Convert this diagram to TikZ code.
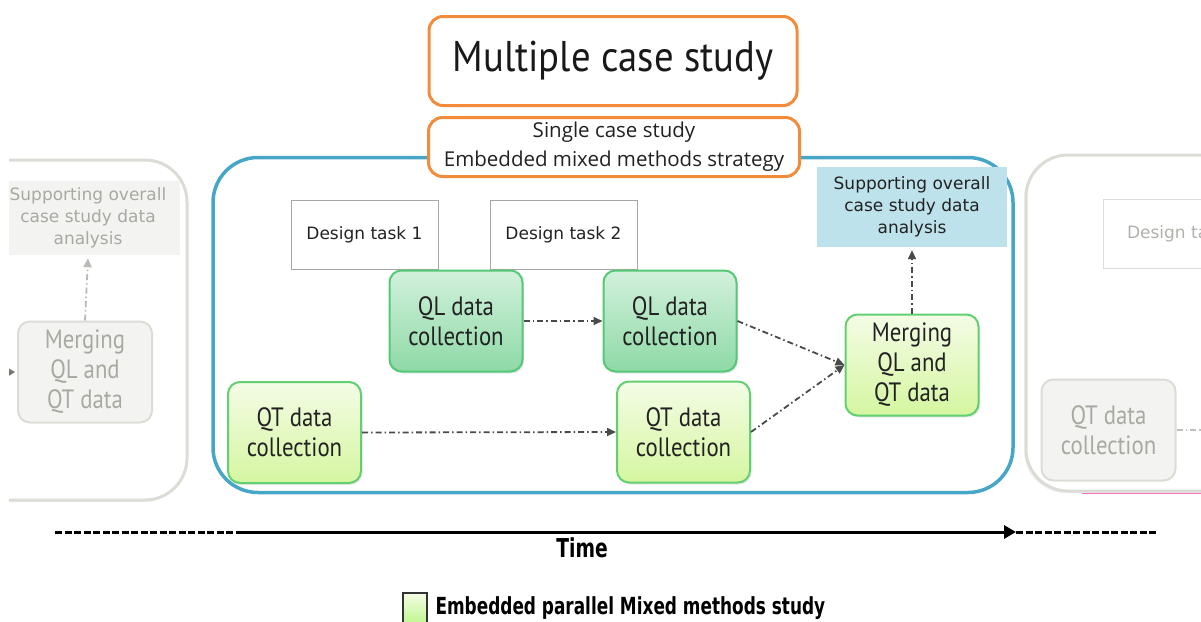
\documentclass[tikz,border=0pt]{standalone}
\usepackage{fontspec}
\setmainfont{PT Sans}[FakeStretch=0.86]
\newfontfamily\verd{DejaVu Sans}
\newfontfamily\subf{Open Sans}
\newfontfamily\titlef{PT Sans}[FakeStretch=0.9]
\newfontfamily\cond{DejaVu Sans Condensed}[FakeStretch=0.8]
\usetikzlibrary{arrows.meta,shadows}

\definecolor{orangeb}{HTML}{F28C3A}
\definecolor{blueb}{HTML}{46A6C8}
\definecolor{bluefill}{HTML}{BEE2EC}
\definecolor{qlborder}{HTML}{55C878}
\definecolor{qltop}{HTML}{D2F1DC}
\definecolor{qlbot}{HTML}{8ED9A6}
\definecolor{qtborder}{HTML}{62D070}
\definecolor{qttop}{HTML}{F4FCE6}
\definecolor{qtbot}{HTML}{D5F6A0}
\definecolor{fadeline}{HTML}{DCDCD7}
\definecolor{fadetext}{HTML}{A9A9A2}
\definecolor{fadefill}{HTML}{F3F3F1}
\definecolor{arrowc}{HTML}{4A4A4A}
\definecolor{inktext}{HTML}{222222}

\tikzset{
  x=1pt, y=-1pt,
  orangebox/.style={draw=orangeb, line width=3pt, rounded corners=14pt, fill=white, align=center},
  stage/.style={draw=blueb, line width=3.5pt, rounded corners=45pt, minimum width=800pt, minimum height=335pt},
  fadestage/.style={draw=fadeline, line width=3pt, rounded corners=42pt, fill=white,
    drop shadow={opacity=.12, shadow xshift=-2pt, shadow yshift=-2pt}},
  taskbox/.style={draw=gray!70, line width=1pt, fill=white, minimum width=147pt, minimum height=69pt,
    font=\verd\fontsize{17}{20}\selectfont, text=inktext},
  databox/.style={line width=2pt, rounded corners=12pt, minimum width=133pt, minimum height=101pt,
    align=center, font=\fontsize{26.5}{30}\selectfont, text=inktext,
    drop shadow={opacity=.18, shadow xshift=1.5pt, shadow yshift=-2pt}},
  qlbox/.style={databox, draw=qlborder, top color=qltop, bottom color=qlbot},
  qtbox/.style={databox, draw=qtborder, top color=qttop, bottom color=qtbot},
  fadebox/.style={draw=fadeline, line width=2pt, rounded corners=12pt, fill=fadefill,
    minimum width=134pt, minimum height=101pt, align=center, text=fadetext,
    font=\fontsize{26.5}{30}\selectfont},
  supportbox/.style={minimum width=190pt, minimum height=80pt, align=center,
    font=\verd\fontsize{17}{22}\selectfont},
  flow/.style={draw=arrowc, line width=1.8pt, dash pattern=on 6pt off 3pt on 1.5pt off 3pt,
    -{Triangle[length=9pt,width=8pt]}},
  fadeflow/.style={flow, draw=fadetext!80},
  timeline/.style={line width=3pt, black},
}

\begin{document}
\begin{tikzpicture}
\useasboundingbox (0,0) rectangle (1201,621);
\clip (0,0) rectangle (1201,621);

% ---- preceding case (faded, cut at the left edge)
\begin{scope}
  \clip (9,0) rectangle (600,621);
  \draw[fadestage] (-60,160) rectangle (187,500);
  \node[supportbox, fill=fadefill, minimum width=184pt, minimum height=74pt, text=fadetext] (lsupp) at (88,218)
    {Supporting overall\\case study data\\analysis};
  \node[fadebox] (lmerge) at (85,372) {Merging\\QL and\\QT data};
  \coordinate (lin) at (-30,373);
  \draw[fadeflow, draw=fadetext!70!black, -{Triangle[length=12pt,width=14pt]}] (lin) -- ([xshift=-2pt]lmerge.west);
  \draw[fadeflow] (lmerge.north) -- ([yshift=-3pt]lsupp.south);
\end{scope}

% ---- following case (faded, cut at the right edge)
\begin{scope}
  \draw[fadestage] (1026,155) rectangle (1300,491);
  \draw[magenta!55, line width=1pt] (1082,493) -- (1201,493);
  \node[taskbox, draw=fadeline, text=fadetext!90, anchor=north west] (rtask) at (1103,199) {Design task};
  \node[fadebox] (rqt) at (1108.5,430) {QT data\\collection};
  \coordinate (rout) at (1220,430);
  \draw[fadeline!70!gray, line width=1.8pt, dash pattern=on 6pt off 3pt on 1.5pt off 3pt] (rqt.east) -- (rout);
\end{scope}

% ---- single case study frame
\node[stage] (case) at (613,325) {};

% ---- headings
\node[orangebox, minimum width=368pt, minimum height=89pt, font=\titlef\fontsize{43}{48}\selectfont, text=black!90,
  drop shadow={opacity=.15, shadow xshift=1pt, shadow yshift=-1.5pt}] (multi) at (613,61)
  {\raisebox{-3.5pt}{Multiple case study}};
\node[orangebox, minimum width=371pt, minimum height=59pt, font=\subf\fontsize{20.5}{29}\selectfont, text=inktext] (single) at (614,147)
  {\raisebox{-2.5pt}{Single case study}\\\raisebox{-2.5pt}{Embedded mixed methods strategy}};

% ---- design tasks
\node[taskbox] (task1) at (364.5,234.5) {Design task 1};
\node[taskbox] (task2) at (563.5,234.5) {Design task 2};

% ---- data collection strands
\node[qlbox] (ql1) at (456,321) {QL data\\collection};
\node[qlbox] (ql2) at (670,321) {QL data\\collection};
\node[qtbox] (qt1) at (294.5,432.5) {QT data\\collection};
\node[qtbox] (qt2) at (683.5,432) {QT data\\collection};
\node[qtbox] (merge) at (912,365) {Merging\\QL and\\QT data};
\node[supportbox, fill=bluefill, text=inktext] (supp) at (912,207) {Supporting overall\\case study data\\analysis};

\draw[flow] (ql1.east) -- (ql2.west);
\draw[flow] (qt1.east) -- (qt2.west);
\draw[flow] (ql2.east) -- (merge.west);
\draw[flow] (qt2.east) -- (merge.west);
\draw[flow] (merge.north) -- ([yshift=-3pt]supp.south);

% ---- time axis
\coordinate (t0) at (55,532);
\coordinate (t1) at (240,532);
\coordinate (t2) at (1016,532);
\coordinate (t3) at (1156,532);
\draw[timeline, dash pattern=on 7pt off 2.5pt] (t0) -- (t1);
\draw[timeline, -{Triangle[length=12pt,width=13pt]}] (t1) -- (t2);
\draw[timeline, dash pattern=on 7pt off 2.5pt] (t2) -- (t3);
\node[font=\cond\bfseries\fontsize{26}{30}\selectfont, anchor=north] (time) at (582,534) {Time};

% ---- legend
\node[draw=black!80, line width=1.5pt, top color=qttop, bottom color=qtbot!90!green,
  minimum width=24pt, minimum height=30pt] (key) at (415,608) {};
\node[font=\cond\bfseries\fontsize{23.5}{26}\selectfont, anchor=west] (keytext) at (432,608)
  {Embedded parallel Mixed methods study};
\end{tikzpicture}
\end{document}
